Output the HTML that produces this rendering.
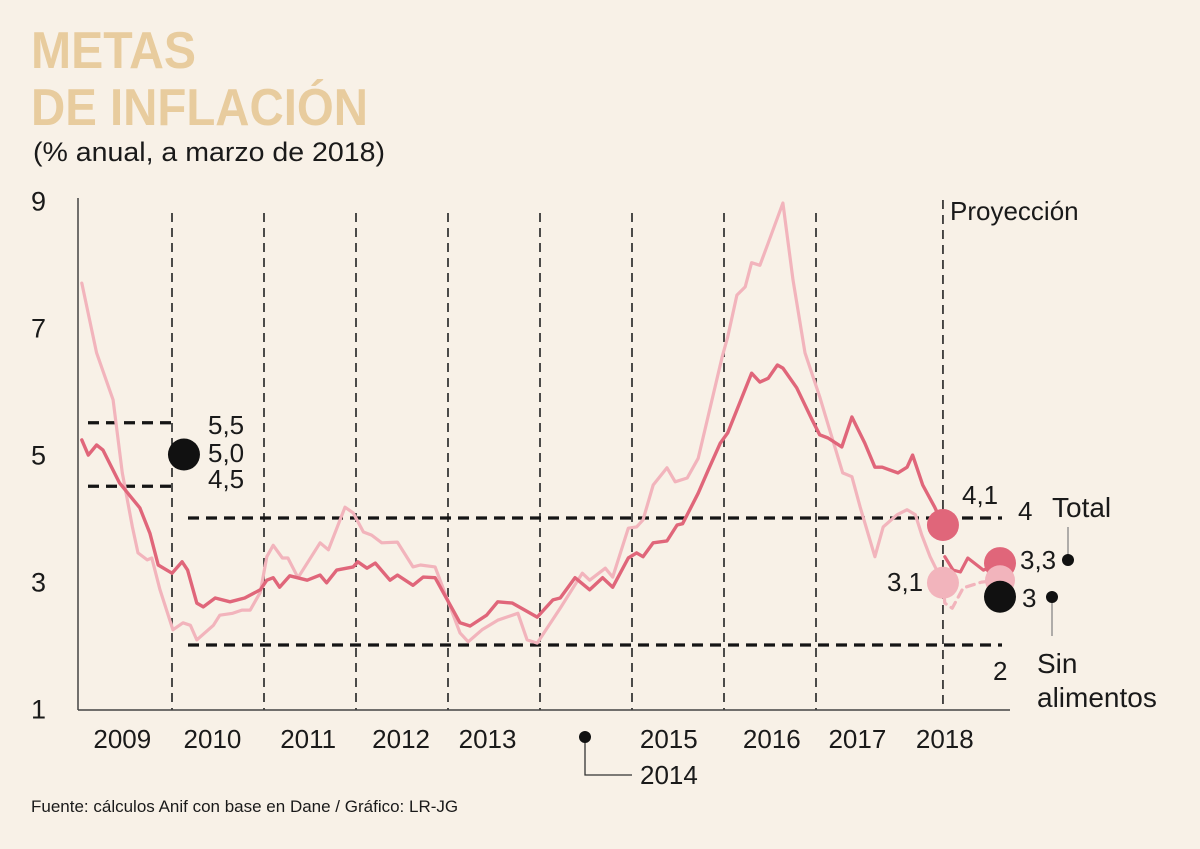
<!DOCTYPE html>
<html><head><meta charset="utf-8">
<style>
html,body{margin:0;padding:0;background:#f8f1e7;}
svg{display:block;font-family:"Liberation Sans",sans-serif;}
</style></head>
<body>
<svg id="chart" width="1200" height="849" viewBox="0 0 1200 849" xmlns="http://www.w3.org/2000/svg">
<rect width="1200" height="849" fill="#f8f1e7"/>
<text x="31" y="68" font-size="52" font-weight="bold" fill="#e8cc9e" textLength="165" lengthAdjust="spacingAndGlyphs">METAS</text>
<text x="31" y="125" font-size="52" font-weight="bold" fill="#e8cc9e" textLength="337" lengthAdjust="spacingAndGlyphs">DE INFLACIÓN</text>
<text x="33" y="161" font-size="27" fill="#1a1a1a" textLength="352" lengthAdjust="spacingAndGlyphs">(% anual, a marzo de 2018)</text>
<text x="31" y="812" font-size="17" fill="#1a1a1a">Fuente: cálculos Anif con base en Dane / Gráfico: LR-JG</text>
<g id="grid"></g>
<g id="targets"></g>
<g id="series"></g>
<g id="axes"></g>
<g id="annot"></g>
</svg>
<script>
const yTicks=[9,7,5,3,1];
const yearLabels=["2009","2010","2011","2012","2013","2015","2016","2017","2018"];
const yearLabelPos=[2009.46,2010.44,2011.48,2012.49,2013.43,2015.4,2016.52,2017.45,2018.4];
const yearBoundaries=[2010,2011,2012,2013,2014,2015,2016,2017,2018.38];
const darkT=[2009.02,2009.09,2009.18,2009.25,2009.43,2009.65,2009.76,2009.85,2010.00,2010.11,2010.17,2010.27,2010.34,2010.47,2010.63,2010.79,2010.96,2011.03,2011.10,2011.17,2011.28,2011.47,2011.61,2011.68,2011.79,2011.97,2012.02,2012.12,2012.21,2012.37,2012.45,2012.62,2012.73,2012.86,2013.13,2013.24,2013.42,2013.54,2013.70,2013.97,2014.14,2014.22,2014.38,2014.54,2014.68,2014.79,2014.96,2015.05,2015.12,2015.23,2015.38,2015.49,2015.55,2015.72,2015.83,2015.96,2016.04,2016.30,2016.39,2016.48,2016.58,2016.64,2016.79,2016.96,2017.04,2017.13,2017.28,2017.39,2017.53,2017.64,2017.72,2017.89,2017.99,2018.05,2018.16,2018.29,2018.38];
const darkV=[5.23,4.99,5.15,5.07,4.55,4.16,3.76,3.26,3.13,3.31,3.18,2.66,2.60,2.74,2.68,2.74,2.87,3.02,3.06,2.91,3.09,3.02,3.10,2.98,3.18,3.23,3.31,3.21,3.29,3.02,3.10,2.94,3.07,3.06,2.35,2.30,2.47,2.68,2.66,2.44,2.71,2.74,3.06,2.87,3.06,2.91,3.37,3.45,3.39,3.61,3.64,3.89,3.91,4.39,4.76,5.18,5.34,6.28,6.14,6.20,6.41,6.36,6.05,5.54,5.31,5.26,5.12,5.59,5.18,4.80,4.80,4.71,4.80,4.99,4.52,4.17,3.89];
const darkProjT=[2018.40,2018.49,2018.57,2018.65,2018.82,2019.00];
const darkProjV=[3.39,3.18,3.15,3.37,3.18,3.29];
const paleT=[2009.02,2009.18,2009.36,2009.46,2009.57,2009.63,2009.73,2009.78,2009.87,2010.01,2010.12,2010.20,2010.27,2010.45,2010.52,2010.66,2010.76,2010.85,2010.96,2011.03,2011.10,2011.20,2011.26,2011.37,2011.61,2011.70,2011.88,2011.97,2012.08,2012.17,2012.28,2012.45,2012.62,2012.70,2012.86,2013.13,2013.22,2013.37,2013.54,2013.76,2013.86,2013.97,2014.22,2014.46,2014.54,2014.71,2014.79,2014.96,2015.05,2015.12,2015.23,2015.38,2015.47,2015.60,2015.72,2015.98,2016.04,2016.14,2016.23,2016.30,2016.39,2016.48,2016.64,2016.75,2016.88,2017.04,2017.10,2017.29,2017.39,2017.48,2017.64,2017.73,2017.88,2017.99,2018.08,2018.15,2018.24,2018.38];
const paleV=[7.70,6.60,5.86,4.71,3.86,3.45,3.34,3.37,2.87,2.24,2.35,2.31,2.08,2.31,2.47,2.50,2.55,2.55,2.83,3.39,3.57,3.37,3.37,3.06,3.61,3.50,4.17,4.08,3.78,3.73,3.61,3.62,3.23,3.26,3.23,2.19,2.05,2.24,2.39,2.50,2.08,2.03,2.58,3.13,3.02,3.21,3.07,3.84,3.86,3.97,4.52,4.79,4.57,4.63,4.94,6.54,6.85,7.51,7.64,8.02,7.98,8.33,8.96,7.75,6.60,5.91,5.62,4.71,4.65,4.17,3.39,3.86,4.05,4.13,4.05,3.73,3.39,2.98];
const paleProjT=[2018.38,2018.40,2018.48,2018.60,2018.80,2019.00];
const paleProjV=[2.98,2.66,2.58,2.90,2.99,3.02];
const dotTotalNow=3.89, dotPaleNow=2.98, dotTotalProj=3.29, dotPaleProj=3.02, dotCoreProj=2.76;

const NS="http://www.w3.org/2000/svg";
const xS=t=>80+(t-2009)*92;
const yS=v=>645-(v-2)*63.5;
function mk(tag,attrs,parent,text){const e=document.createElementNS(NS,tag);for(const k in attrs)e.setAttribute(k,attrs[k]);if(text!==undefined)e.textContent=text;parent.appendChild(e);return e;}
const grid=document.getElementById('grid'),targets=document.getElementById('targets'),series=document.getElementById('series'),axes=document.getElementById('axes'),annot=document.getElementById('annot');

yearBoundaries.forEach((t,i)=>{
  const l=mk('line',{x1:xS(t),x2:xS(t),y1:i===8?200:213,y2:710,stroke:'#222','stroke-width':1.6,'stroke-dasharray':'9 6'},grid);
  
  
});

function hdash(v,x1,x2,name){
  const l=mk('line',{x1:x1,x2:x2,y1:yS(v),y2:yS(v),stroke:'#151515','stroke-width':3.2,'stroke-dasharray':'11 7'},targets);
  
  
}
hdash(5.5,88,174,'target-upper-2009');
hdash(4.5,88,174,'target-lower-2009');
hdash(4,188,1002,'target-upper');
hdash(2,188,1002,'target-lower');

function path(T,V,color,w,dash,name){
  const d=T.map((t,i)=>(i?'L':'M')+xS(t).toFixed(1)+','+yS(V[i]).toFixed(1)).join(' ');
  const p=mk('path',{d:d,fill:'none',stroke:color,'stroke-width':w,'stroke-linejoin':'round','stroke-linecap':'round'},series);
  if(dash)p.setAttribute('stroke-dasharray',dash);
  
  
}
const PALE='#f2b4bc',DARK='#e0667a';
path(paleT,paleV,PALE,3.2,null,'line-total-pale');
path(paleProjT,paleProjV,PALE,3.2,'8 6','line-pale-projection');
path(darkT,darkV,DARK,3.4,null,'line-core-dark');
path(darkProjT,darkProjV,DARK,3.2,null,'line-dark-projection');

let a=mk('line',{x1:78,x2:78,y1:198,y2:710,stroke:'#444','stroke-width':1.5},axes);

a=mk('line',{x1:78,x2:1010,y1:710,y2:710,stroke:'#444','stroke-width':1.5},axes);

yTicks.forEach(v=>{
  const t=mk('text',{x:31,y:yS(v)+10,'font-size':27,fill:'#1a1a1a'},axes,String(v));
  
  
});
yearLabels.forEach((s,i)=>{
  const t=mk('text',{x:xS(yearLabelPos[i]),y:748,'font-size':26,fill:'#1a1a1a','text-anchor':'middle'},axes,s);
  
  
});

function txt(x,y,s,size,name,anchor){const t=mk('text',{x:x,y:y,'font-size':size,fill:'#1a1a1a','text-anchor':anchor||'start'},annot,s);return t;}
function dot(x,y,r,c,name){const e=mk('circle',{cx:x,cy:y,r:r,fill:c},annot);}
let c=mk('polyline',{points:'585,737 585,775 632,775',fill:'none',stroke:'#333','stroke-width':1.3},annot);

dot(585,737,6,'#111','year-2014-marker');
txt(640,784,'2014',26,'year-2014-label');
dot(xS(2010.13),yS(5),16,'#111','target-2009-dot');
txt(208,434,'5,5',26,'target-label-5-5');
txt(208,462,'5,0',26,'target-label-5-0');
txt(208,488,'4,5',26,'target-label-4-5');
txt(950,220,'Proyección',26,'projection-label');
dot(xS(2018.38),yS(dotTotalNow),16,DARK,'dot-4-1');
dot(xS(2018.38),yS(dotPaleNow),16,PALE,'dot-3-1');
dot(xS(2019),yS(dotTotalProj),16,DARK,'dot-3-3');
dot(xS(2019),yS(dotPaleProj),15,PALE,'dot-pale-end');
dot(xS(2019),yS(dotCoreProj),16,'#111','dot-3');
txt(962,504,'4,1',26,'label-4-1');
txt(1018,520,'4',26,'label-4');
txt(1052,517,'Total',28,'legend-total');
txt(1020,569,'3,3',26,'label-3-3');
txt(887,591,'3,1',26,'label-3-1');
txt(1022,607,'3',26,'label-3');
txt(993,680,'2',26,'label-2');
txt(1037,673,'Sin',28,'legend-sin-alimentos-1');
txt(1037,707,'alimentos',28,'legend-sin-alimentos-2');
c=mk('line',{x1:1068,x2:1068,y1:527,y2:560,stroke:'#888','stroke-width':1.3},annot);

dot(1068,560,6,'#111','total-legend-dot');
c=mk('line',{x1:1052,x2:1052,y1:597,y2:636,stroke:'#888','stroke-width':1.3},annot);

dot(1052,597,6,'#111','sin-alimentos-legend-dot');
</script>
</body></html>
